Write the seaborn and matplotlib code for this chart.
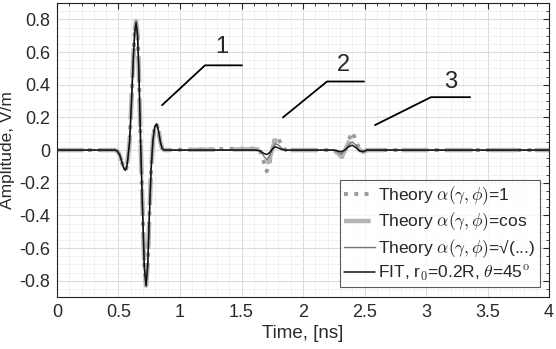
import pandas as pd
import matplotlib.pyplot as plt
import seaborn as sns
from matplotlib.ticker import MultipleLocator

# Dados (tempo em ns)
t_pulso = [0, 0.47, 0.49, 0.51, 0.53, 0.545, 0.555, 0.565, 0.575, 0.59, 0.605, 0.62, 0.632,
           0.643, 0.655, 0.665, 0.68, 0.695, 0.71, 0.724, 0.738, 0.75, 0.765, 0.78, 0.795,
           0.81, 0.825, 0.84, 0.855, 0.87]
t_eco2 = [1.62, 1.65, 1.68, 1.705, 1.73, 1.755, 1.775, 1.80, 1.83, 1.86]
t_eco3 = [2.25, 2.28, 2.31, 2.34, 2.37, 2.40, 2.43, 2.46, 2.49, 2.52, 4.0]

pulso_fit = [0, 0, -0.005, -0.03, -0.08, -0.115, -0.122, -0.11, -0.06, 0.05, 0.28, 0.55, 0.72,
             0.78, 0.70, 0.50, 0.04, -0.35, -0.72, -0.83, -0.70, -0.42, -0.12, 0.06, 0.145,
             0.16, 0.12, 0.05, 0.01, 0]
pulso_teo = [0, 0, -0.005, -0.03, -0.08, -0.115, -0.125, -0.11, -0.06, 0.05, 0.29, 0.56, 0.73,
             0.79, 0.71, 0.50, 0.04, -0.35, -0.72, -0.83, -0.70, -0.42, -0.12, 0.06, 0.145,
             0.16, 0.12, 0.05, 0.01, 0]

eco2_fit = [0, -0.005, -0.02, -0.027, -0.015, 0.01, 0.02, 0.012, 0.003, 0]
eco2_um = [0.01, 0.0, -0.07, -0.13, -0.07, 0.03, 0.08, 0.07, 0.02, 0]
eco2_cos = [0.005, 0.0, -0.05, -0.09, -0.05, 0.02, 0.06, 0.05, 0.015, 0]
eco2_raiz = [0, -0.003, -0.035, -0.06, -0.035, 0.015, 0.04, 0.03, 0.01, 0]

eco3_fit = [0, -0.005, -0.01, 0.0, 0.02, 0.03, 0.015, -0.005, -0.01, 0, 0]
eco3_um = [0, -0.02, -0.05, -0.01, 0.06, 0.11, 0.06, 0.0, -0.01, 0, 0]
eco3_cos = [0, -0.015, -0.04, -0.005, 0.045, 0.08, 0.045, 0.0, -0.01, 0, 0]
eco3_raiz = [0, -0.01, -0.025, 0.0, 0.03, 0.05, 0.03, -0.005, -0.01, 0, 0]

rotulos = [r"Theory $\alpha(\gamma,\phi)$=1",
           r"Theory $\alpha(\gamma,\phi)$=cos",
           r"Theory $\alpha(\gamma,\phi)$=√(...)",
           r"FIT, r$_0$=0.2R, $\theta$=45$^{\rm o}$"]

tempo = t_pulso + t_eco2 + t_eco3
df = pd.DataFrame({
    "tempo": tempo,
    rotulos[0]: pulso_teo + eco2_um + eco3_um,
    rotulos[1]: pulso_teo + eco2_cos + eco3_cos,
    rotulos[2]: pulso_teo + eco2_raiz + eco3_raiz,
    rotulos[3]: pulso_fit + eco2_fit + eco3_fit,
})

sns.set_style("white")
plt.rcParams["font.family"] = ["Liberation Sans", "DejaVu Sans"]
plt.rcParams["mathtext.fontset"] = "cm"

fig = plt.figure(figsize=(5.56, 3.49), dpi=100)
ax = fig.add_axes([0.1025, 0.149, 0.885, 0.842])

estilos = [
    dict(color="#9a9a9a", linestyle=":", linewidth=2.8),
    dict(color="#b4b4b4", linestyle=(0, (6, 4)), linewidth=3.2),
    dict(color="#777777", linestyle="-", linewidth=1.0),
    dict(color="#111111", linestyle="-", linewidth=1.1),
]
for rot, est in zip(rotulos, estilos):
    sns.lineplot(data=df, x="tempo", y=rot, ax=ax, label=rot, **est)

ax.set_xlim(0, 4)
ax.set_ylim(-0.9, 0.9)
ax.xaxis.set_major_locator(MultipleLocator(0.5))
ax.xaxis.set_minor_locator(MultipleLocator(0.1))
ax.yaxis.set_major_locator(MultipleLocator(0.2))
ax.yaxis.set_minor_locator(MultipleLocator(0.05))
ax.set_xticklabels([f"{v:g}" for v in ax.get_xticks()])
ax.set_yticklabels([f"{v:.1f}" if abs(v) > 1e-9 else "0" for v in ax.get_yticks()])
ax.tick_params(which="both", direction="in", top=True, right=True, labelsize=13, colors="#2a2a2a")
ax.tick_params(which="major", length=4, pad=5)
ax.tick_params(which="minor", length=2)
ax.grid(True, which="major", color="#dcdcdc", linewidth=0.8)
ax.grid(True, which="minor", color="#efefef", linewidth=0.6)
for s in ax.spines.values():
    s.set_color("#222222")
    s.set_linewidth(0.8)

ax.set_xlabel("Time, [ns]", fontsize=13.5, color="#2a2a2a", labelpad=3)
ax.set_ylabel("Amplitude, V/m", fontsize=12.5, color="#2a2a2a", labelpad=3)

# Anotações
ax.plot([0.854, 1.203, 1.504], [0.275, 0.519, 0.519], color="black", linewidth=1.3)
ax.text(1.34, 0.63, "1", fontsize=17, ha="center", va="center")
ax.plot([1.837, 2.195, 2.496], [0.20, 0.42, 0.42], color="black", linewidth=1.3)
ax.text(2.33, 0.52, "2", fontsize=17, ha="center", va="center")
ax.plot([2.585, 3.04, 3.358], [0.153, 0.324, 0.324], color="black", linewidth=1.3)
ax.text(3.20, 0.415, "3", fontsize=17, ha="center", va="center")

leg = ax.legend(loc="lower right", fontsize=12.5, frameon=True, fancybox=False,
                handlelength=1.8, handletextpad=0.15, borderpad=0.25, labelspacing=0.2,
                borderaxespad=0.55)
leg.get_frame().set_edgecolor("#333333")
leg.get_frame().set_linewidth(0.8)

plt.savefig("out.png", dpi=100)
